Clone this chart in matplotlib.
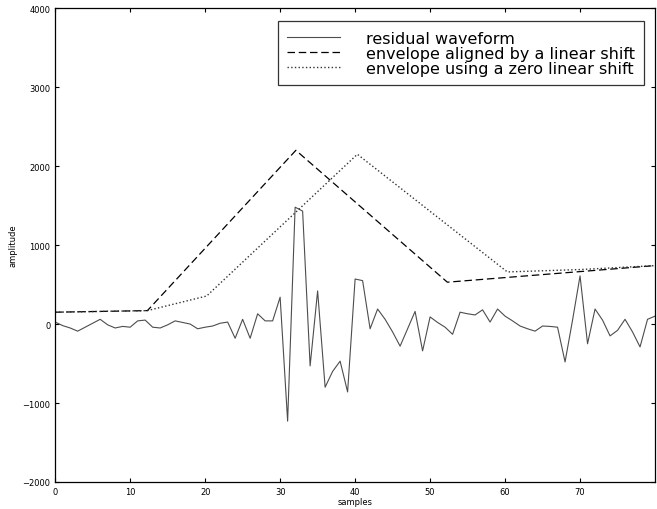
import numpy as np
import matplotlib.pyplot as plt

# residual waveform, one value per sample
samples = np.arange(0, 81)
residual = [25, -20, -50, -90, -40, 10, 60, -10, -50, -30,
            -40, 40, 50, -40, -50, -10, 40, 20, 0, -60,
            -40, -25, 10, 25, -180, 60, -180, 130, 40, 40,
            340, -1230, 1480, 1430, -530, 420, -800, -600, -470, -860,
            570, 550, -60, 190, 60, -100, -280, -60, 160, -340,
            90, 20, -40, -130, 150, 130, 115, 180, 25, 190,
            100, 40, -25, -60, -90, -25, -30, -40, -480, 50,
            610, -250, 190, 50, -150, -80, 60, -100, -290, 60, 100]

# envelope aligned by a linear shift (break points)
env_shift_x = [0, 12.3, 32.1, 52.3, 80]
env_shift_y = [150, 170, 2200, 530, 740]

# envelope using a zero linear shift (break points)
env_zero_x = [0, 12.3, 20.2, 40.3, 60.3, 70, 80]
env_zero_y = [150, 170, 355, 2150, 660, 690, 740]

xticks = [0, 10, 20, 30, 40, 50, 60, 70]
yticks = [-2000, -1000, 0, 1000, 2000, 3000, 4000]

fig = plt.figure(figsize=(6.57, 5.10), dpi=100)
ax = fig.add_axes([0.084, 0.053, 0.913, 0.929])

ax.plot(samples, residual, '-', color='0.3', lw=0.8, label='residual waveform')
ax.plot(env_shift_x, env_shift_y, '--', color='k', lw=0.9, dashes=(6, 3),
        label='envelope aligned by a linear shift')
ax.plot(env_zero_x, env_zero_y, ':', color='0.2', lw=1.0,
        label='envelope using a zero linear shift')

ax.set_xlim(0, 80)
ax.set_ylim(-2000, 4000)
ax.set_xticks(xticks)
ax.set_yticks(yticks)
ax.tick_params(direction='in', top=True, right=True, labelsize=6, length=3, width=0.8)
ax.set_xlabel('samples', fontsize=6, labelpad=1)
ax.set_ylabel('amplitude', fontsize=6)
ax.yaxis.set_label_coords(-0.062, 0.5)
for s in ax.spines.values():
    s.set_linewidth(0.9)

leg = ax.legend(loc='upper right', bbox_to_anchor=(0.982, 0.973),
                prop={'family': 'DejaVu Sans', 'size': 11.5},
                frameon=True, fancybox=False, edgecolor='k',
                handlelength=3.3, handletextpad=1.6, labelspacing=0.0,
                borderpad=0.6, borderaxespad=0)
leg.get_frame().set_linewidth(0.9)

fig.savefig('out.png', dpi=100)
